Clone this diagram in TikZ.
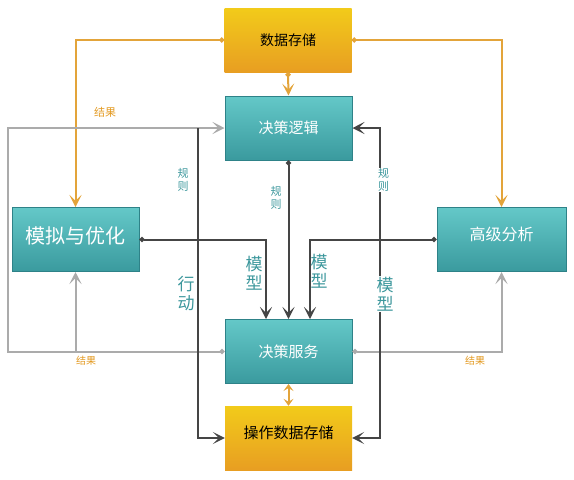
\documentclass[tikz,border=0pt]{standalone}
\usepackage{fontspec}
\setmainfont{Noto Sans CJK SC}
\usetikzlibrary{arrows.meta}
\definecolor{tealtop}{HTML}{64C8C8}
\definecolor{tealbot}{HTML}{3A9A9E}
\definecolor{tealedge}{HTML}{2E8288}
\definecolor{yeltop}{HTML}{F2CB1A}
\definecolor{yelbot}{HTML}{E89E22}
\definecolor{orangeline}{HTML}{E3A43A}
\definecolor{grayline}{HTML}{ABABAB}
\definecolor{darkline}{HTML}{454545}
\definecolor{labelteal}{HTML}{3C979C}
\definecolor{labelorange}{HTML}{E39A22}
\begin{document}
\begin{tikzpicture}[x=1pt,y=-1pt,
    tip/.style={-{Stealth[length=12pt,width=12pt,inset=6pt]}},
    dot/.style={{Circle[length=5pt]}-{Stealth[length=12pt,width=12pt,inset=6pt]}},
    teal box/.style={draw=tealedge,line width=1pt,top color=tealtop,bottom color=tealbot,
      minimum width=127pt,minimum height=64pt,inner sep=0pt,text=white},
    yellow box/.style={top color=yeltop,bottom color=yelbot,
      minimum width=127pt,minimum height=64pt,inner sep=0pt,text=black}]

        \useasboundingbox (0,0) rectangle (574,480);

        \begin{scope}[every node/.style={yellow box}]
          \node (ds)  at (288,40)    [font=\fontsize{14}{16}\selectfont] {数据存储};
          \node (ods) at (288.5,438) [font=\fontsize{15}{17}\selectfont] {\raisebox{11pt}{操作数据存储}};
        \end{scope}

        \begin{scope}[every node/.style={teal box}]
          \node (logic) at (288.5,128)  [font=\fontsize{15}{17}\selectfont] {决策逻辑};
          \node (sim)   at (75.5,239.5) [font=\fontsize{20}{22}\selectfont] {\raisebox{9pt}{模拟与优化}};
          \node (adv)   at (501.5,239.5) [minimum width=129pt,font=\fontsize{16}{18}\selectfont] {\raisebox{11pt}{高级分析}};
          \node (svc)   at (288.5,351.5) [font=\fontsize{15}{17}\selectfont] {决策服务};
        \end{scope}

        \coordinate (act)  at (198,128);
        \coordinate (loop) at (8,351.5);

        % orange: data store
        \begin{scope}[orangeline,line width=2pt]
          \draw[dot] (ds.west) -| (sim.north);
          \draw[dot] (ds.east) -| (adv.north);
          \draw[dot] (ds.south) -- (logic.north);
          \draw[{Stealth[length=7pt,width=10pt,inset=3pt]}-{Stealth[length=7pt,width=10pt,inset=3pt]}]
            (svc.south) -- (ods.north);
        \end{scope}

        % gray: results
        \begin{scope}[grayline,line width=2pt]
          \draw[dot] (svc.west) -- (loop) |- (logic.west);
          \draw[tip] (sim.south |- svc.west) -- (sim.south);
          \draw[dot] (svc.east) -| (adv.south);
        \end{scope}

        % dark: rules, models, actions
        \begin{scope}[darkline,line width=2pt]
          \draw[dot] (logic.south) -- (svc.north);
          \draw[dot] (sim.east) -| ([xshift=-22.5pt]svc.north);
          \draw[dot] (adv.west) -| ([xshift=21.5pt]svc.north);
          \draw[tip] (act) |- (ods.west);
          \draw[{Stealth[length=12pt,width=12pt,inset=6pt]}-{Stealth[length=12pt,width=12pt,inset=6pt]}]
            (logic.east) -- ++(27,0) |- (ods.east);
        \end{scope}

        \begin{scope}[every node/.style={text=labelteal,align=center,inner sep=0.5pt}]
          \node (r1) at (183,180) [font=\fontsize{11}{13}\selectfont] {规\\则};
          \node (r2) at (276,198) [font=\fontsize{11}{13}\selectfont] {规\\则};
          \node (r3) at (383.5,180) [fill=white,font=\fontsize{11}{13}\selectfont] {规\\则};
          \node (a1) at (186,294) [font=\fontsize{17}{19}\selectfont] {行\\动};
          \node (m1) at (254,273) [font=\fontsize{17}{19}\selectfont] {模\\型};
          \node (m2) at (319,271) [font=\fontsize{17}{19}\selectfont] {模\\型};
          \node (m3) at (385,294) [fill=white,font=\fontsize{17}{19}\selectfont] {模\\型};
        \end{scope}

        \begin{scope}[every node/.style={text=labelorange,inner sep=0pt}]
          \node (res1) at (105,112) [font=\fontsize{11}{13}\selectfont] {结果};
          \node (res2) at (86,361)  [font=\fontsize{10}{12}\selectfont] {结果};
          \node (res3) at (475,361) [font=\fontsize{10}{12}\selectfont] {结果};
        \end{scope}

      \end{tikzpicture}
\end{document}
